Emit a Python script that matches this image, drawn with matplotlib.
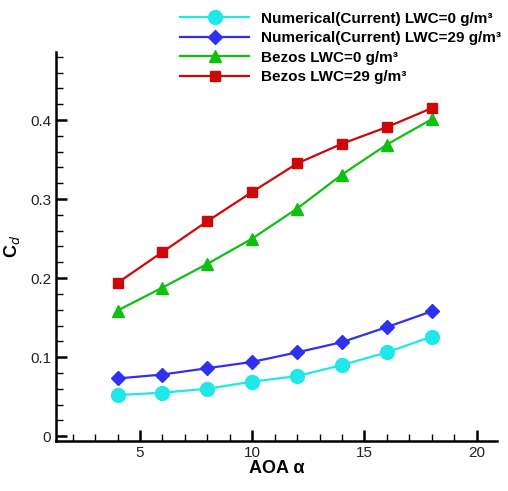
import numpy as np
import matplotlib.pyplot as plt
from matplotlib.ticker import MultipleLocator

plt.rcParams['font.family'] = ['Liberation Sans', 'DejaVu Sans']

aoa = np.array([4, 6, 8, 10, 12, 14, 16, 18])
num_lwc0 = np.array([0.052, 0.055, 0.060, 0.069, 0.076, 0.090, 0.106, 0.126])
num_lwc29 = np.array([0.073, 0.078, 0.086, 0.094, 0.106, 0.119, 0.138, 0.158])
bezos_lwc0 = np.array([0.159, 0.188, 0.218, 0.250, 0.288, 0.331, 0.369, 0.401])
bezos_lwc29 = np.array([0.194, 0.233, 0.272, 0.309, 0.345, 0.370, 0.391, 0.415])
labels = ["Numerical(Current) LWC=0 g/m³", "Numerical(Current) LWC=29 g/m³",
          "Bezos LWC=0 g/m³", "Bezos LWC=29 g/m³"]

fig = plt.figure(figsize=(5.08, 4.91), dpi=100)
ax = fig.add_axes([0.110, 0.102, 0.868, 0.792])

ax.plot(aoa, num_lwc0, color='#1ee8e8', marker='o', markersize=10, lw=1.6, label=labels[0])
ax.plot(aoa, num_lwc29, color='#3030f0', marker='D', markersize=7.5, lw=1.6, label=labels[1])
ax.plot(aoa, bezos_lwc0, color='#10c010', marker='^', markersize=8.5, lw=1.6, label=labels[2])
ax.plot(aoa, bezos_lwc29, color='#cc0808', marker='s', markersize=7.5, lw=1.6, label=labels[3])

ax.set_xlim(1.25, 20.9)
ax.set_ylim(-0.006, 0.486)
ax.xaxis.set_major_locator(MultipleLocator(5))
ax.xaxis.set_minor_locator(MultipleLocator(1))
ax.yaxis.set_major_locator(MultipleLocator(0.1))
ax.yaxis.set_minor_locator(MultipleLocator(0.02))
ax.set_yticks([0, 0.1, 0.2, 0.3, 0.4])
ax.set_yticklabels(['0', '0.1', '0.2', '0.3', '0.4'])

for s in ['top', 'right']:
    ax.spines[s].set_visible(False)
for s in ['left', 'bottom']:
    ax.spines[s].set_linewidth(1.8)
ax.tick_params(which='major', direction='in', length=8, width=1.8, labelsize=11, colors='black', labelcolor='#222222')
ax.tick_params(which='minor', direction='in', length=5, width=1.0)

ax.set_xlabel('AOA α', fontsize=13, fontweight='bold', labelpad=0)
ax.set_ylabel(r'C$_d$', fontsize=13, fontweight='bold', labelpad=6)

fig.legend(loc='upper left', bbox_to_anchor=(0.328, 1.004), frameon=False,
           prop={'size': 11, 'weight': 'bold'}, handlelength=4.5, handletextpad=0.75,
           labelspacing=0.36)

fig.savefig('out.png', dpi=100)
